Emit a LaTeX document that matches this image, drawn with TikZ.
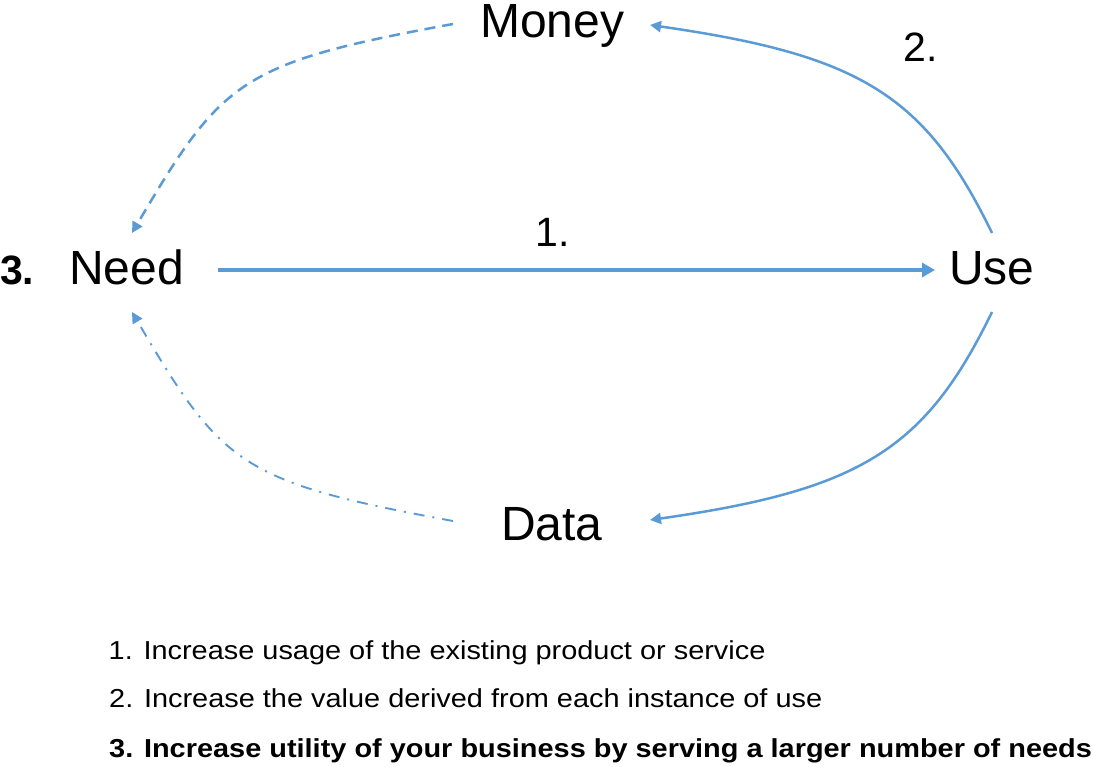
\documentclass[tikz,border=0pt]{standalone}
\usepackage{fontspec}
\setmainfont{Liberation Sans}
\newfontfamily\legendfont[FakeStretch=1.112]{Liberation Sans}
\usetikzlibrary{arrows.meta,calc}
\definecolor{flow}{RGB}{91,155,213}
\begin{document}
\begin{tikzpicture}[x=1pt,y=-1pt,
  word/.style={inner sep=0pt,anchor=base west,font=\fontsize{48}{50}\selectfont},
  numlabel/.style={inner sep=0pt,anchor=base west,font=\fontsize{41}{43}\selectfont},
  legend/.style={inner sep=0pt,anchor=base west,font=\legendfont\fontsize{26}{28}\selectfont},
  mainarrow/.style={draw=flow,line width=4.5pt,-{Triangle[length=13pt,width=14pt]}},
  curvearrow/.style={draw=flow,line width=2.5pt,-{Triangle[length=11pt,width=11pt]}},
  dasharrow/.style={draw=flow,line width=2.5pt,dash pattern=on 11pt off 7pt,-{Triangle[length=11pt,width=11pt]}},
  dotarrow/.style={draw=flow,line width=1.9pt,dash pattern=on 11pt off 8pt on 2pt off 8pt,-{Triangle[length=11pt,width=11pt]}}
]
\useasboundingbox (0,0) rectangle (1093,767);
\fill[white] (0,0) rectangle (1093,767);

\node[word] (money) at (480,38) {Money};
\node[word] (need)  at (69,285) {Need};
\node[word] (use)   at (949,285) {Use};
\node[word] (data)  at (501,540) {Data};

\node[numlabel,font=\fontsize{41}{43}\selectfont\bfseries] (three) at (0,285) {3.};
\node[numlabel] (one) at (535.5,247) {1.};
\node[numlabel] (two) at (903,62) {2.};

% 1. Need -> Use
\draw[mainarrow] ($(need.base west)+(149,-15)$) -- ($(use.base west)+(-14,-15)$);
% 2. Use -> Money
\draw[curvearrow] ($(use.base west)+(43,-52)$) .. controls (925,95) and (860,55) .. ($(money.base west)+(170,-13)$);
% Use -> Data
\draw[curvearrow] ($(use.base west)+(43,27)$) .. controls (925,450) and (860,490) .. ($(data.base west)+(149,-20)$);
% Money -> Need (dashed)
\draw[dasharrow] ($(money.base west)+(-27,-14)$) .. controls (240,63) and (222,80) .. ($(need.base west)+(63,-52)$);
% Data -> Need (dash dot)
\draw[dotarrow] ($(data.base west)+(-48,-19)$) .. controls (240,482) and (222,465) .. ($(need.base west)+(63,27)$);

\node[legend] (l1) at (108.5,659) {1. Increase usage of the existing product or service};
\node[legend] (l2) at (109,707) {2. Increase the value derived from each instance of use};
\node[legend,font=\legendfont\fontsize{26}{28}\selectfont\bfseries] (l3) at (109,757) {3. Increase utility of your business by serving a larger number of needs};
\end{tikzpicture}
\end{document}
